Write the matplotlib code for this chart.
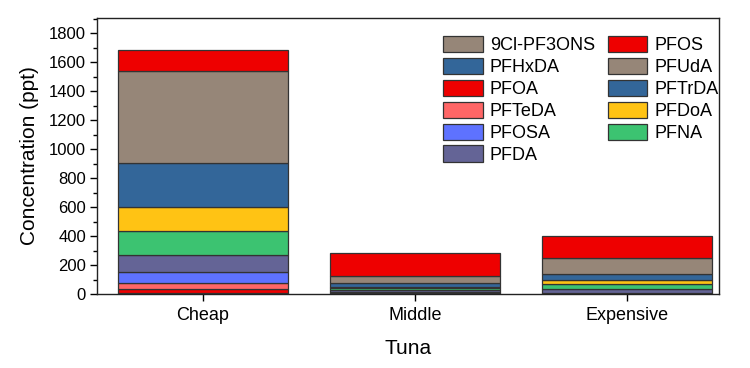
import matplotlib
matplotlib.use("Agg")
import matplotlib.pyplot as plt
from matplotlib.ticker import MultipleLocator
import numpy as np

plt.rcParams['font.family'] = ['Liberation Sans', 'DejaVu Sans']

# tuna price groups
categories = ["Cheap", "Middle", "Expensive"]

# concentrations (ppt), bottom of the stack first
compounds = ["9Cl-PF3ONS", "PFHxDA", "PFOA", "PFTeDA", "PFOSA", "PFDA",
             "PFNA", "PFDoA", "PFTrDA", "PFUdA", "PFOS"]
cl_pf3ons = [4, 1, 0.5]
pfhxda = [6, 1, 0.5]
pfoa = [27, 3, 1]
pfteda = [41, 3, 0.5]
pfosa = [74, 6, 1]
pfda = [114, 12, 28]
pfna = [166, 14, 40]
pfdoa = [168, 10, 22]
pftrda = [305, 26, 45]
pfuda = [632, 49, 107]
pfos = [146, 158, 155]

values = [cl_pf3ons, pfhxda, pfoa, pfteda, pfosa, pfda,
          pfna, pfdoa, pftrda, pfuda, pfos]
colors = ["#968678", "#336699", "#EE0000", "#FF6666", "#5E72FF", "#646496",
          "#3CC371", "#FFC314", "#336699", "#968678", "#EE0000"]

# legend layout: column 1 then column 2
legend_order = ["9Cl-PF3ONS", "PFHxDA", "PFOA", "PFTeDA", "PFOSA", "PFDA",
                "PFOS", "PFUdA", "PFTrDA", "PFDoA", "PFNA"]

fig = plt.figure(figsize=(7.5, 3.68), dpi=100)
ax = fig.add_axes([97 / 750, 1 - 294 / 368, (719 - 97) / 750, (294 - 18) / 368])

x = np.arange(len(categories))
bottom = np.zeros(len(categories))
bars = {}
for name, vals, col in zip(compounds, values, colors):
    vals = np.array(vals, dtype=float)
    b = ax.bar(x, vals, width=0.8, bottom=bottom, color=col,
               edgecolor="#333333", linewidth=0.9, label=name)
    bars[name] = b
    bottom += vals

ax.set_xlim(-0.5, 2.434)
ax.set_ylim(0, 1905)
ax.yaxis.set_major_locator(MultipleLocator(200))
ax.yaxis.set_minor_locator(MultipleLocator(100))
ax.set_xticks(x)
ax.set_xticklabels(categories)
ax.tick_params(axis="both", direction="out", width=1, length=5)
ax.tick_params(axis="x", labelsize=13, pad=4)
ax.tick_params(axis="y", labelsize=12, pad=3)
ax.tick_params(axis="y", which="minor", direction="out", length=3, width=1)
for s in ax.spines.values():
    s.set_linewidth(1.0)
    s.set_color("#222222")

ax.set_ylabel("Concentration (ppt)", fontsize=15, labelpad=7)
ax.set_xlabel("Tuna", fontsize=15, labelpad=11)

handles = [bars[n] for n in legend_order]
ax.legend(handles, legend_order, ncol=2, frameon=False, fontsize=13,
          loc="upper left", bbox_to_anchor=(443 / 750, 1 - 36 / 368),
          bbox_transform=fig.transFigure, borderpad=0, borderaxespad=0,
          handlelength=2.2, handleheight=1.0, handletextpad=0.4,
          columnspacing=0.7, labelspacing=0.2)

fig.savefig("out.png", dpi=100)
